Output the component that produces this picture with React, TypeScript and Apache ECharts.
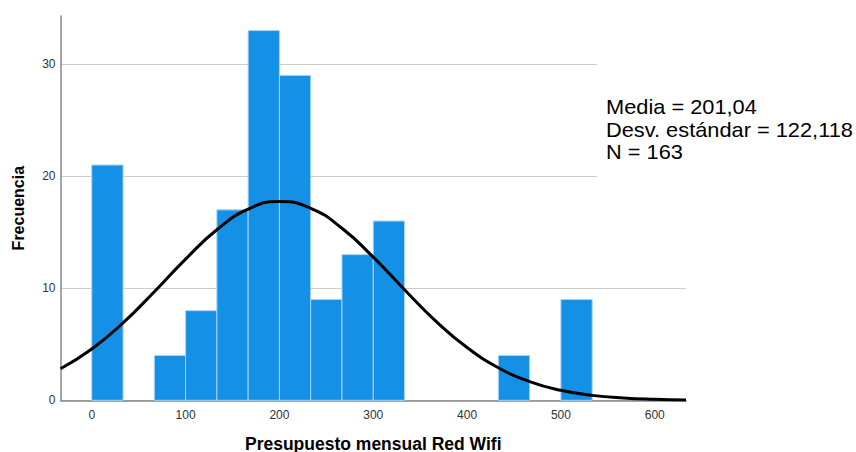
import React, { useEffect, useRef } from "react";
import * as echarts from "echarts";

// Histogram bins: [start, end, count]
const binStarts = [0, 66.67, 100, 133.33, 166.67, 200, 233.33, 266.67, 300, 433.33, 500];
const binWidth = 33.333;
const binCounts = [21, 4, 8, 17, 33, 29, 9, 13, 16, 4, 9];

// Normal curve values
const curveX = [-33.33, 0, 33.33, 66.67, 100, 133.33, 166.67, 200, 233.33, 266.67, 300, 333.33, 366.67, 400, 433.33, 466.67, 500, 533.33, 566.67, 600, 633.33];
const curveY = [2.82, 4.58, 6.91, 9.69, 12.6, 15.22, 17.06, 17.75, 17.14, 15.36, 12.78, 9.87, 7.07, 4.71, 2.91, 1.67, 0.89, 0.44, 0.2, 0.085, 0.034];

const xTicks = [0, 100, 200, 300, 400, 500, 600];
const yTicks = [0, 10, 20, 30];
const statsLines = ["Media = 201,04", "Desv. estándar = 122,118", "N = 163"];

export default function App() {
  const ref = useRef<HTMLDivElement>(null);
  useEffect(() => {
    if (!ref.current) return;
    const chart = echarts.init(ref.current, null, { renderer: "svg" });
    const bins = binStarts.map((s, i) => [s, s + binWidth, binCounts[i]]);
    const curve = curveX.map((x, i) => [x, curveY[i]]);
    chart.setOption({
      animation: false,
      grid: { left: 60.5, right: 170, top: 16, bottom: 51.7, containLabel: false, outerBoundsMode: "none" },
      xAxis: {
        type: "value",
        min: -33.333,
        max: 633.333,
        name: "Presupuesto mensual Red Wifi",
        nameLocation: "middle",
        nameGap: 35,
        nameTextStyle: { fontFamily: "Liberation Sans", fontSize: 17.5, fontWeight: "bold", color: "#000" },
        axisLine: { show: true, onZero: false, lineStyle: { color: "#888", width: 1.5 } },
        axisTick: { show: false, customValues: xTicks },
        splitLine: { show: false },
        axisLabel: {
          fontFamily: "Liberation Sans",
          fontSize: 12,
          color: "#333",
          margin: 9,
          customValues: xTicks,
          formatter: (v: number) => String(Math.round(v)),
        },
      },
      yAxis: {
        type: "value",
        min: 0,
        max: 34.3,
        name: "Frecuencia",
        nameLocation: "middle",
        nameGap: 34.5,
        nameTextStyle: { fontFamily: "Liberation Sans", fontSize: 16, fontWeight: "bold", color: "#000" },
        axisLine: { show: true, onZero: false, lineStyle: { color: "#888", width: 1.5 } },
        axisTick: { show: false, customValues: yTicks },
        splitLine: { show: true, lineStyle: { color: "#ccc", width: 1.2 } },
        axisLabel: {
          fontFamily: "Liberation Sans",
          fontSize: 12,
          color: "#333",
          margin: 5,
          customValues: yTicks,
        },
      },
      graphic: [
        { type: "rect", shape: { x: 597, y: 40, width: 200, height: 150 }, style: { fill: "#fff" }, z: 1 },
        {
          type: "text",
          x: 606,
          y: 96,
          z: 2,
          scaleX: 1.09,
          style: {
            text: statsLines.join("\n"),
            font: '20px "Liberation Sans"',
            lineHeight: 22.5,
            fill: "#000",
          },
        },
      ],
      series: [
        {
          type: "custom",
          data: bins,
          z: 2,
          renderItem: (params: any, api: any) => {
            const p0 = api.coord([api.value(0), api.value(2)]);
            const p1 = api.coord([api.value(1), 0]);
            return {
              type: "rect",
              shape: { x: p0[0], y: p0[1], width: p1[0] - p0[0], height: p1[1] - p0[1] },
              style: { fill: "#1490e6", stroke: "#a6d4f5", lineWidth: 1 },
            };
          },
        },
        {
          type: "line",
          data: curve,
          smooth: true,
          showSymbol: false,
          symbol: "none",
          z: 3,
          lineStyle: { color: "#000", width: 3 },
        },
      ],
    });
    return () => chart.dispose();
  }, []);
  return <div ref={ref} style={{ position: "fixed", left: 0, top: 0, width: 856, height: 452, background: "#fff" }} />;
}
